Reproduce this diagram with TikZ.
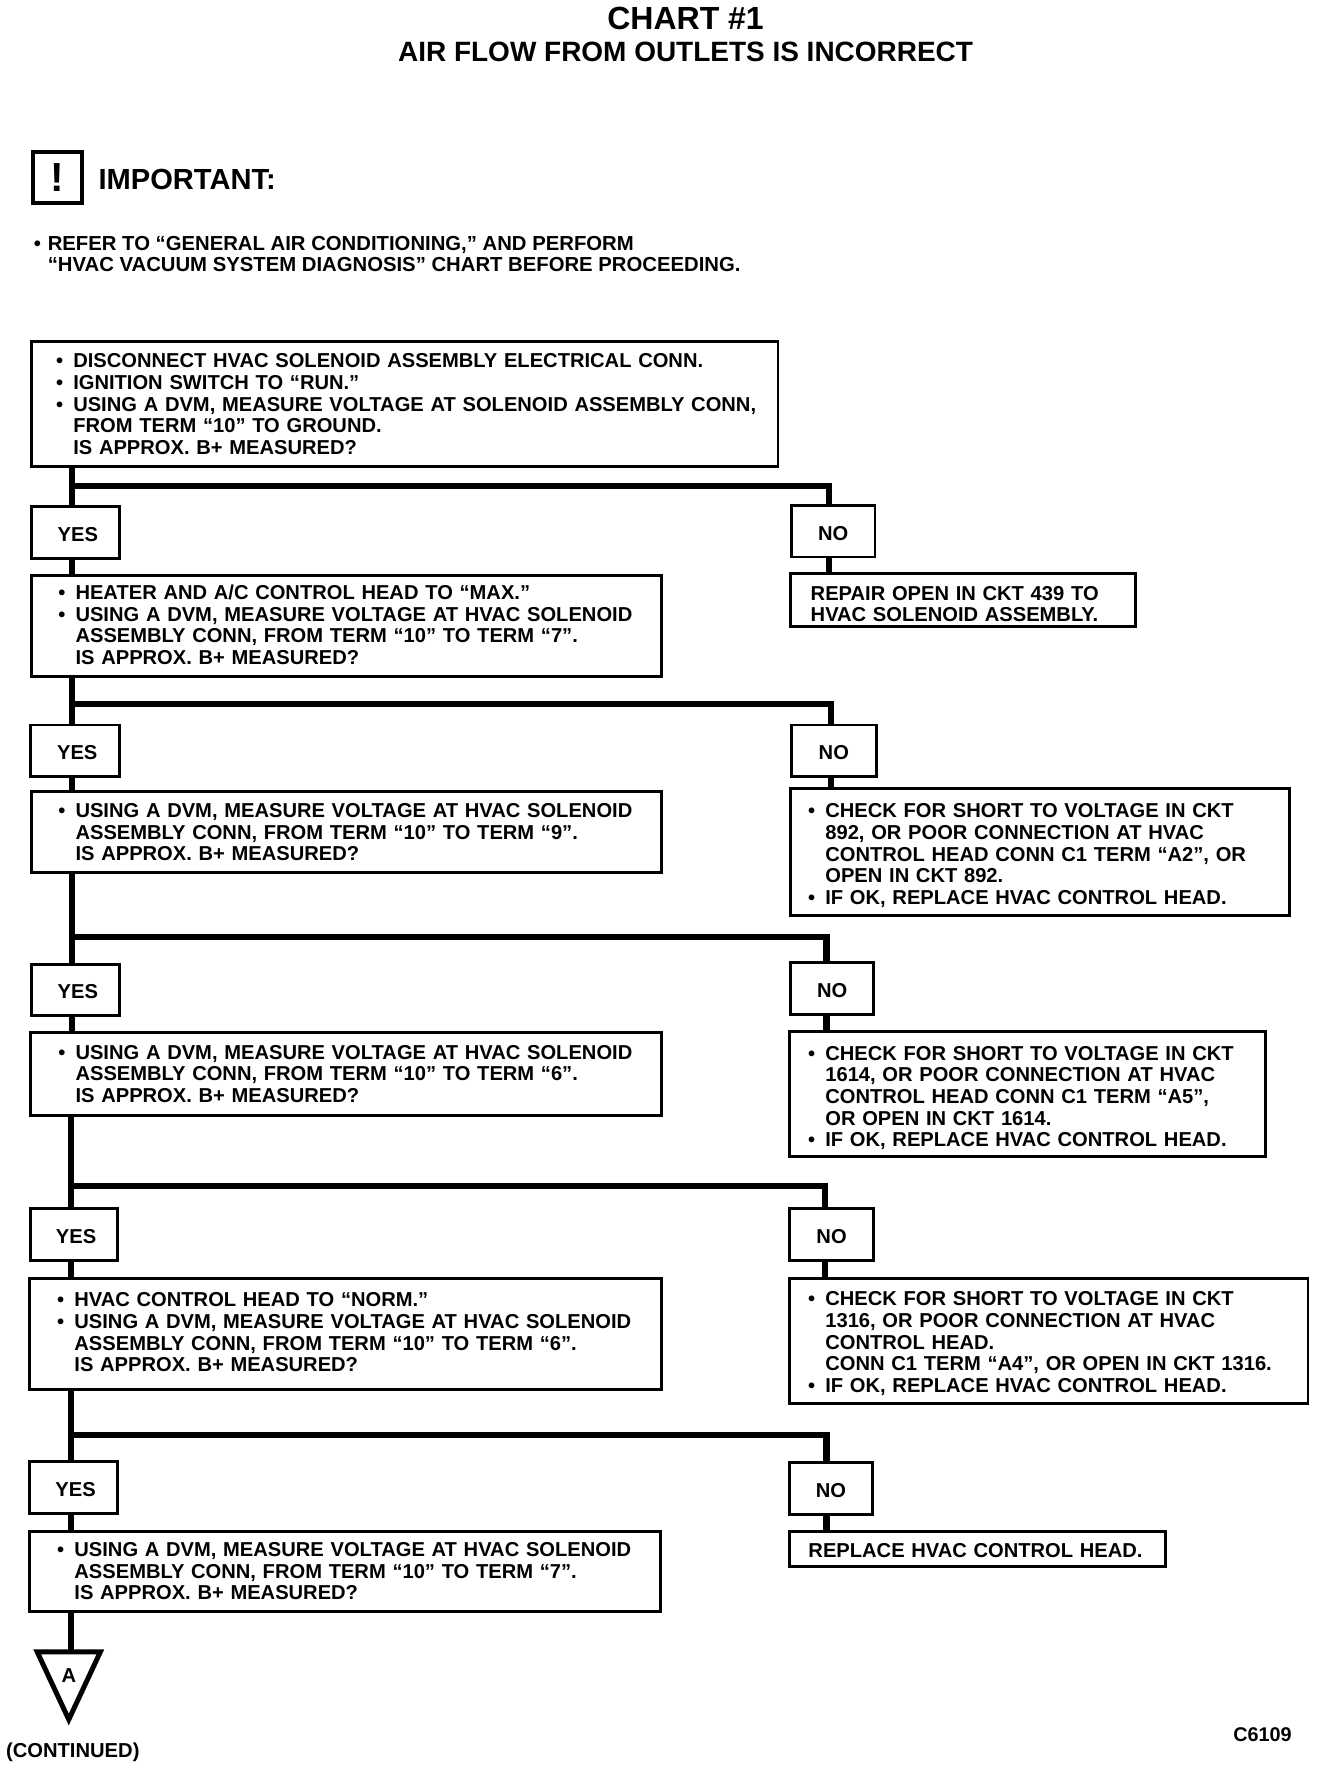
\documentclass[tikz,border=0pt]{standalone}
\usepackage{fontspec}
\setmainfont{Liberation Sans}[BoldFont=Liberation Sans Bold]
\usetikzlibrary{shapes.geometric}
\newcommand{\bul}{\leavevmode\llap{\textbullet\hspace{4.5pt}}}
\newcommand{\chartfont}{\fontsize{8.93}{9.625}\selectfont\bfseries}
\newcommand{\yes}{\hspace*{2pt}YES}

\begin{document}
\begin{tikzpicture}[
      x=0.5pt, y=-0.5pt,
      box/.style n args={3}{draw, line width=1.3pt, anchor=north west, outer sep=0pt, inner xsep=0pt, inner ysep=0pt,
                  minimum width=#1, minimum height=#2, text width=#1, font=\chartfont,
                  execute at begin node={\leftskip=#3\relax}},
      tag/.style={draw, line width=1.3pt, anchor=north west, outer sep=0pt, inner sep=0pt,
                  minimum height=23pt, text height=8pt, font=\chartfont},
      plain/.style={inner sep=0pt, font=\chartfont},
      flow/.style={line width=2.7pt}
    ]
      \useasboundingbox (0,0) rectangle (1178,1568);

      \node[plain, font=\fontsize{14.2}{16}\selectfont\bfseries] (title) at (608,16) {CHART \#1};
      \node[plain, font=\fontsize{12.4}{14}\selectfont\bfseries] (subtitle) at (608,46) {AIR FLOW FROM OUTLETS IS INCORRECT};
      \node[draw, line width=1.7pt, anchor=north west, outer sep=0pt, inner sep=0pt, minimum width=22pt, minimum height=22.5pt,
            font=\fontsize{18}{18}\selectfont\bfseries] (warn) at (29,135) {!};
      \node[plain, anchor=west, font=\fontsize{12.9}{14}\selectfont\bfseries] (important) at (87,159) {IMPORTANT:};
      \node[plain, anchor=north west, align=left, font=\fontsize{9}{9.625}\selectfont\bfseries] (note) at (42,209) {\leavevmode\llap{\textbullet\hspace{3pt}}REFER TO “GENERAL AIR CONDITIONING,” AND PERFORM\\“HVAC VACUUM SYSTEM DIAGNOSIS” CHART BEFORE PROCEEDING.};

      \node[box={331pt}{55.5pt}{18.5pt}] (b1) at (28,303) {\bul DISCONNECT HVAC SOLENOID ASSEMBLY ELECTRICAL CONN.\\\bul IGNITION SWITCH TO “RUN.”\\\bul USING A DVM, MEASURE VOLTAGE AT SOLENOID ASSEMBLY CONN,\\FROM TERM “10” TO GROUND.\\IS APPROX. B+ MEASURED?};
      \node[tag, minimum width=39pt] (yes1) at (28,449) {\yes};
      \node[tag, minimum width=37pt] (no1) at (702,448) {NO};
      \node[box={279.5pt}{45pt}{19.5pt}] (b2) at (28,510) {\bul HEATER AND A/C CONTROL HEAD TO “MAX.”\\\bul USING A DVM, MEASURE VOLTAGE AT HVAC SOLENOID\\ASSEMBLY CONN, FROM TERM “10” TO TERM “7”.\\IS APPROX. B+ MEASURED?\rule[-1pt]{0pt}{0pt}};
      \node[box={153pt}{23.5pt}{9pt}] (r1) at (701,509) {\leavevmode\rule{0pt}{9.5pt}REPAIR OPEN IN CKT 439 TO\\HVAC SOLENOID ASSEMBLY.};

      \node[tag, minimum width=39.5pt] (yes2) at (27,643) {\yes};
      \node[tag, minimum width=37.5pt] (no2) at (702,643) {NO};
      \node[box={279.5pt}{36pt}{19.5pt}] (b3) at (28,702) {\bul USING A DVM, MEASURE VOLTAGE AT HVAC SOLENOID\\ASSEMBLY CONN, FROM TERM “10” TO TERM “9”.\\IS APPROX. B+ MEASURED?};
      \node[box={221.5pt}{56.5pt}{15.5pt}] (r2) at (701,699) {\bul\rule{0pt}{9.5pt}CHECK FOR SHORT TO VOLTAGE IN CKT\\892, OR POOR CONNECTION AT HVAC\\CONTROL HEAD CONN C1 TERM “A2”, OR\\OPEN IN CKT 892.\\\bul IF OK, REPLACE HVAC CONTROL HEAD.};

      \node[tag, minimum width=39pt] (yes3) at (28,855) {\yes};
      \node[tag, minimum width=37pt] (no3) at (701,854) {NO};
      \node[box={280pt}{36.5pt}{20pt}] (b4) at (27,916) {\bul USING A DVM, MEASURE VOLTAGE AT HVAC SOLENOID\\ASSEMBLY CONN, FROM TERM “10” TO TERM “6”.\\IS APPROX. B+ MEASURED?};
      \node[box={211pt}{55.5pt}{16pt}] (r3) at (700,915) {\bul\rule{0pt}{9.5pt}CHECK FOR SHORT TO VOLTAGE IN CKT\\1614, OR POOR CONNECTION AT HVAC\\CONTROL HEAD CONN C1 TERM “A5”,\\OR OPEN IN CKT 1614.\\\bul IF OK, REPLACE HVAC CONTROL HEAD.};

      \node[tag, minimum width=38.5pt] (yes4) at (27,1072) {\yes};
      \node[tag, minimum width=37.5pt] (no4) at (700,1072) {NO};
      \node[box={280.5pt}{49pt}{20pt}] (b5) at (26,1134) {\bul HVAC CONTROL HEAD TO “NORM.”\\\bul USING A DVM, MEASURE VOLTAGE AT HVAC SOLENOID\\ASSEMBLY CONN, FROM TERM “10” TO TERM “6”.\\IS APPROX. B+ MEASURED?\rule[-1.5pt]{0pt}{0pt}};
      \node[box={230pt}{55.5pt}{16pt}] (r4) at (700,1134) {\bul\rule{0pt}{8.5pt}CHECK FOR SHORT TO VOLTAGE IN CKT\\1316, OR POOR CONNECTION AT HVAC\\CONTROL HEAD.\\CONN C1 TERM “A4”, OR OPEN IN CKT 1316.\\\bul IF OK, REPLACE HVAC CONTROL HEAD.};

      \node[tag, minimum width=39pt] (yes5) at (26,1296) {\yes};
      \node[tag, minimum width=37pt] (no5) at (700,1297) {NO};
      \node[box={280pt}{35.5pt}{20pt}] (b6) at (26,1358) {\bul USING A DVM, MEASURE VOLTAGE AT HVAC SOLENOID\\ASSEMBLY CONN, FROM TERM “10” TO TERM “7”.\\IS APPROX. B+ MEASURED?};
      \node[box={167pt}{15.5pt}{8.5pt}] (r5) at (700,1358) {\leavevmode\rule{0pt}{7.5pt}REPLACE HVAC CONTROL HEAD.};

      \node[draw, line width=2.2pt, isosceles triangle, isosceles triangle apex angle=50, isosceles triangle stretches,
            shape border rotate=-90, minimum height=30pt, minimum width=28pt, inner sep=0pt, outer sep=0pt,
            anchor=apex, font=\chartfont] (tri) at (61,1525) {\raisebox{-6.75pt}[0pt][0pt]{A}};
      \node[plain, anchor=west, font=\fontsize{8.95}{11}\selectfont\bfseries] (continued) at (5,1554) {(CONTINUED)};
      \node[plain, anchor=east, font=\fontsize{8.8}{10}\selectfont\bfseries] (code) at (1146,1538) {C6109};

      \coordinate (j1) at (64,431);   \coordinate (k1) at (735,431);
      \coordinate (j2) at (64,624);   \coordinate (k2) at (737,624);
      \coordinate (j3) at (64,831);   \coordinate (k3) at (733,831);
      \coordinate (j4) at (63,1052);  \coordinate (k4) at (732,1052);
      \coordinate (j5) at (63,1273);  \coordinate (k5) at (733,1273);

      \draw[flow] (b1.south -| j1) -- (yes1.north -| j1);
      \draw[flow] (yes1.south -| j1) -- (b2.north -| j1);
      \draw[flow] (j1) -- (k1) -- (no1.north -| k1);
      \draw[flow] (no1.south -| k1) -- (r1.north -| k1);

      \draw[flow] (b2.south -| j2) -- (yes2.north -| j2);
      \draw[flow] (yes2.south -| j2) -- (b3.north -| j2);
      \draw[flow] (j2) -- (k2) -- (no2.north -| k2);
      \draw[flow] (no2.south -| k2) -- (r2.north -| k2);

      \draw[flow] (b3.south -| j3) -- (yes3.north -| j3);
      \draw[flow] (yes3.south -| j3) -- (b4.north -| j3);
      \draw[flow] (j3) -- (k3) -- (no3.north -| k3);
      \draw[flow] (no3.south -| k3) -- (r3.north -| k3);

      \draw[flow] (b4.south -| j4) -- (yes4.north -| j4);
      \draw[flow] (yes4.south -| j4) -- (b5.north -| j4);
      \draw[flow] (j4) -- (k4) -- (no4.north -| k4);
      \draw[flow] (no4.south -| k4) -- (r4.north -| k4);

      \draw[flow] (b5.south -| j5) -- (yes5.north -| j5);
      \draw[flow] (yes5.south -| j5) -- (b6.north -| j5);
      \draw[flow] (j5) -- (k5) -- (no5.north -| k5);
      \draw[flow] (no5.south -| k5) -- (r5.north -| k5);

      \draw[flow] (b6.south -| j5) -- (tri.lower side -| j5);
    \end{tikzpicture}
\end{document}
